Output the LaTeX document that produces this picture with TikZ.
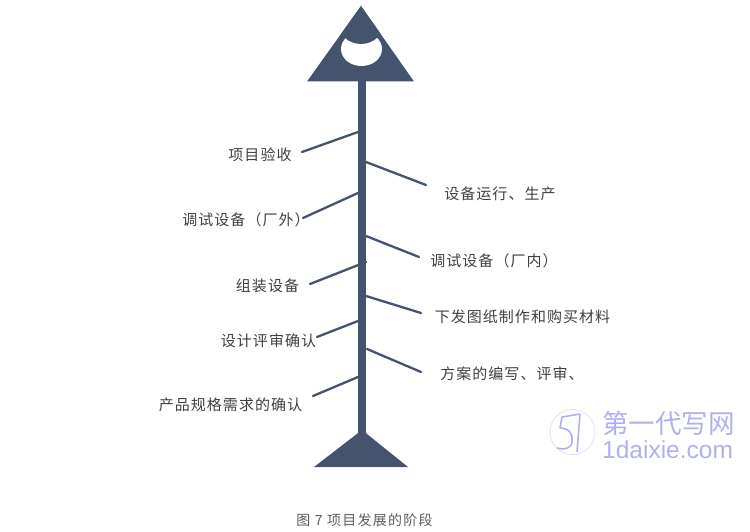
\documentclass[tikz,border=0pt]{standalone}
\usepackage{fontspec}
\newfontfamily\cnfont[LetterSpace=7]{Noto Sans CJK SC}
\newfontfamily\capfont[LetterSpace=9]{Noto Sans CJK SC}
\newfontfamily\markfont{Noto Sans CJK SC}
\setmainfont{Liberation Sans}
\definecolor{bone}{HTML}{44546F}
\definecolor{inktext}{HTML}{404040}
\definecolor{wm}{HTML}{B0B0F0}
\tikzset{
  x=1pt,y=-1pt,
  solidpart/.style={fill=bone,draw=none},
  branch/.style={draw=bone,line width=2.3pt,line cap=round},
  lab/.style={text=inktext,font=\fontsize{15}{15}\cnfont,inner sep=0pt},
  captext/.style={text=inktext!85,font=\fontsize{14}{14}\capfont,inner sep=0pt},
  wmtext/.style={text=wm,inner sep=0pt},
}
\begin{document}
\begin{tikzpicture}
\useasboundingbox (0,0) rectangle (750,532);
% body
\fill[solidpart] (358,78) rectangle (366,436);
\fill[solidpart] (361,6) -- (414,81.5) -- (307,81.5) -- cycle;
\fill[white] (361.5,49) ellipse [x radius=20.5,y radius=17];
\begin{scope}
  \clip (361,6) -- (414,81.5) -- (307,81.5) -- cycle;
  \fill[solidpart] (361,20) circle [radius=24];
\end{scope}
\fill[solidpart] (362,430) -- (408,467) -- (314,467) -- cycle;
% labels
\node[lab] (l1) at (260,155) {项目验收};
\node[lab] (l2) at (246,220) {调试设备（厂外）};
\node[lab] (l3) at (267.5,286) {组装设备};
\node[lab] (l4) at (268.5,341) {设计评审确认};
\node[lab] (l5) at (230.5,405) {产品规格需求的确认};
\node[lab] (r1) at (500,194) {设备运行、生产};
\node[lab] (r2) at (494,261) {调试设备（厂内）};
\node[lab] (r3) at (522.5,317) {下发图纸制作和购买材料};
\node[lab] (r4) at (512,374) {方案的编写、评审、};
\node[captext] (caption) at (364.5,520) {图 7 项目发展的阶段};
% branch ends
\coordinate (a1) at (302,152); \coordinate (b1) at (358,132);
\coordinate (a2) at (303,218); \coordinate (b2) at (358,193);
\coordinate (a3) at (310,284); \coordinate (b3) at (366,262);
\coordinate (a4) at (317,337); \coordinate (b4) at (358,321);
\coordinate (a5) at (313,396); \coordinate (b5) at (358,377);
\coordinate (c1) at (366,162); \coordinate (d1) at (426,185);
\coordinate (c2) at (366,236); \coordinate (d2) at (419,257);
\coordinate (c3) at (366,296); \coordinate (d3) at (421,313);
\coordinate (c4) at (367,349); \coordinate (d4) at (421,372);
\foreach \s/\e in {a1/b1,a2/b2,a3/b3,a4/b4,a5/b5,c1/d1,c2/d2,c3/d3,c4/d4}
  \draw[branch] (\s) -- (\e);
% watermark
\draw[wm!45,line width=0.7pt] (572.5,432) circle [radius=22.5];
\draw[wm,line width=1.6pt,line join=round]
  (580,414) -- (562,417) -- (560,428)
  .. controls (570,428) and (573,435) .. (572,442)
  .. controls (571,449) and (564,450) .. (557,448);
\draw[wm,line width=1.6pt] (580,414) -- (577,452);
\node[wmtext,font=\fontsize{26.5}{26.5}\markfont,anchor=west] (wm1) at (602,423) {第一代写网};
\node[wmtext,font=\fontsize{24.5}{25}\selectfont,anchor=west] (wm2) at (602,450) {1daixie.com};
\end{tikzpicture}
\end{document}
